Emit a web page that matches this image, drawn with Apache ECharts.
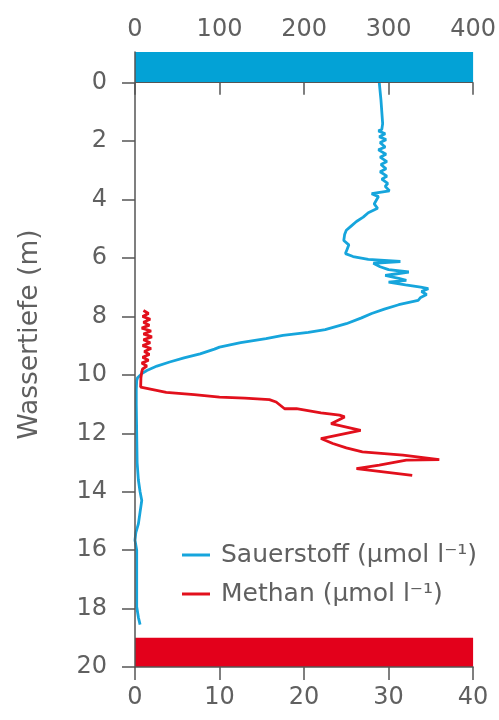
<!DOCTYPE html>
<html>
<head>
<meta charset="utf-8">
<script src="https://cdn.jsdelivr.net/npm/echarts@6/dist/echarts.min.js"></script>
<style>
html,body{margin:0;padding:0;background:#fff;}
#chart{width:499px;height:720px;}
</style>
</head>
<body>
<div id="chart"></div>
<script>
// Depth ticks (m)
const depthTicks = [0, 2, 4, 6, 8, 10, 12, 14, 16, 18, 20];
const depthRange = [-1.05, 20];
const o2Range = [0, 400];
const ch4Range = [0, 40];
const surfaceBand = [-1.05, 0];
const bottomBand = [19, 20];

// Sauerstoff (µmol/l) profile
const o2Depth = [0.0, 0.3, 0.6, 1.0, 1.4, 1.6, 1.65, 1.75, 1.85, 1.95, 2.05, 2.2, 2.3, 2.45, 2.55, 2.7, 2.8, 2.95, 3.05, 3.2, 3.3, 3.45, 3.55, 3.7, 3.8, 3.85, 3.9, 4.0, 4.15, 4.3, 4.45, 4.6, 4.75, 4.9, 5.05, 5.2, 5.4, 5.55, 5.7, 5.85, 5.95, 6.05, 6.12, 6.18, 6.3, 6.4, 6.48, 6.6, 6.7, 6.77, 6.83, 6.92, 7.0, 7.05, 7.15, 7.25, 7.35, 7.45, 7.6, 7.75, 7.9, 8.05, 8.25, 8.45, 8.55, 8.65, 8.76, 8.9, 9.05, 9.12, 9.28, 9.42, 9.56, 9.7, 9.85, 9.96, 10.1, 10.2, 10.5, 11.0, 12.0, 13.0, 13.6, 14.0, 14.3, 14.7, 15.1, 15.4, 15.66, 16.0, 16.5, 17.0, 17.5, 17.94, 18.3, 18.55];
const o2Conc = [289, 290, 291, 292, 293, 292, 288, 296, 289, 297, 290, 296, 288, 297, 290, 298, 291, 297, 290, 298, 292, 299, 296, 301, 280, 279, 288, 286, 283, 287, 276, 270, 262, 256, 250, 248, 247, 253, 251, 249, 258, 276, 314, 282, 290, 300, 324, 296, 312, 321, 300, 320, 338, 347, 339, 345, 338, 335, 312, 295, 280, 268, 250, 225, 205, 175, 155, 125, 100, 94, 77, 58, 41, 26, 14, 8, 3, 2, 1.5, 1.5, 2, 2.5, 4, 6, 8, 6, 4, 1, 0, 2, 2, 2, 2, 2, 4, 6];

// Methan (µmol/l) profile
const ch4Depth = [7.8, 7.9, 8.0, 8.1, 8.2, 8.3, 8.4, 8.5, 8.6, 8.7, 8.8, 8.9, 9.0, 9.1, 9.2, 9.3, 9.4, 9.5, 9.6, 9.7, 9.8, 9.9, 10.1, 10.42, 10.6, 10.68, 10.76, 10.8, 10.85, 10.93, 11.16, 11.16, 11.3, 11.38, 11.44, 11.67, 11.9, 12.18, 12.35, 12.5, 12.64, 12.75, 12.9, 12.92, 13.09, 13.21, 13.44];
const ch4Conc = [1.0, 1.6, 0.9, 1.8, 1.0, 1.7, 0.8, 1.9, 1.0, 2.0, 1.0, 1.8, 0.9, 1.9, 1.1, 1.7, 0.9, 1.6, 0.8, 1.4, 0.9, 0.8, 0.7, 0.67, 3.7, 7, 10, 13, 15.9, 16.7, 17.7, 19.1, 22, 24.2, 24.8, 23.2, 26.7, 22.0, 23.4, 25, 26.9, 31.7, 36.0, 32.1, 28.9, 26.2, 32.8];

const o2Name = 'Sauerstoff (µmol l⁻¹)';
const ch4Name = 'Methan (µmol l⁻¹)';

const FONT = 'DejaVu Sans';
const GREY = '#606060';
const AXIS = '#555';
const BLUE = '#16a5dc';
const BLUEBAR = '#03a2d6';
const RED = '#e2101c';
const REDBAR = '#e3001b';

const chart = echarts.init(document.getElementById('chart'), null, {renderer: 'canvas'});
chart.setOption({
  animation: false,
  backgroundColor: '#fff',
  grid: {left: 135, right: 25, top: 52, bottom: 53, containLabel: false},
  legend: {
    orient: 'vertical',
    left: 177,
    top: 535,
    itemWidth: 28,
    itemHeight: 3,
    itemGap: 9,
    icon: 'rect',
    selectedMode: false,
    textStyle: {fontFamily: FONT, fontSize: 25, color: GREY, lineHeight: 30, padding: [0, 0, 0, 6]},
    data: [o2Name, ch4Name]
  },
  xAxis: [
    {
      type: 'value', position: 'top', min: o2Range[0], max: o2Range[1], interval: 100, z: 10,
      axisLine: {show: true, lineStyle: {color: AXIS, width: 1}},
      axisTick: {show: true, inside: true, length: 12, lineStyle: {color: AXIS, width: 1.5}},
      axisLabel: {fontFamily: FONT, fontSize: 24, color: GREY, margin: 10},
      splitLine: {show: false}
    },
    {
      type: 'value', position: 'bottom', min: ch4Range[0], max: ch4Range[1], interval: 10, z: 10,
      axisLine: {show: true, lineStyle: {color: AXIS, width: 1.5}},
      axisTick: {show: true, inside: false, length: 13, lineStyle: {color: AXIS, width: 1.5}},
      axisLabel: {fontFamily: FONT, fontSize: 24, color: GREY, margin: 19},
      splitLine: {show: false}
    }
  ],
  yAxis: {
    type: 'value', inverse: true, min: depthRange[0], max: depthRange[1], z: 10,
    name: 'Wassertiefe (m)', nameLocation: 'middle', nameGap: 91, nameRotate: 90,
    nameTextStyle: {fontFamily: FONT, fontSize: 26.5, color: GREY, padding: [0, 0, 0, 50]},
    axisLine: {show: true, lineStyle: {color: AXIS, width: 1.5}},
    axisTick: {show: true, inside: false, length: 13, customValues: depthTicks, lineStyle: {color: AXIS, width: 1.5}},
    axisLabel: {fontFamily: FONT, fontSize: 24, color: GREY, margin: 28, customValues: depthTicks},
    splitLine: {show: false}
  },
  series: [
    {
      name: o2Name, type: 'line', xAxisIndex: 0, yAxisIndex: 0,
      showSymbol: false, symbol: 'none', z: 3,
      lineStyle: {color: BLUE, width: 2.8},
      itemStyle: {color: BLUE},
      data: o2Depth.map((d, i) => [o2Conc[i], d]),
      markArea: {
        silent: true,
        itemStyle: {color: BLUEBAR, opacity: 1},
        data: [[{coord: [o2Range[0], surfaceBand[0]]}, {coord: [o2Range[1], surfaceBand[1]]}]]
      }
    },
    {
      name: ch4Name, type: 'line', xAxisIndex: 1, yAxisIndex: 0,
      showSymbol: false, symbol: 'none', z: 4,
      lineStyle: {color: RED, width: 2.8},
      itemStyle: {color: RED},
      data: ch4Depth.map((d, i) => [ch4Conc[i], d]),
      markArea: {
        silent: true,
        itemStyle: {color: REDBAR, opacity: 1},
        data: [[{coord: [ch4Range[0], bottomBand[0]]}, {coord: [ch4Range[1], bottomBand[1]]}]]
      }
    }
  ]
});
</script>
</body>
</html>
